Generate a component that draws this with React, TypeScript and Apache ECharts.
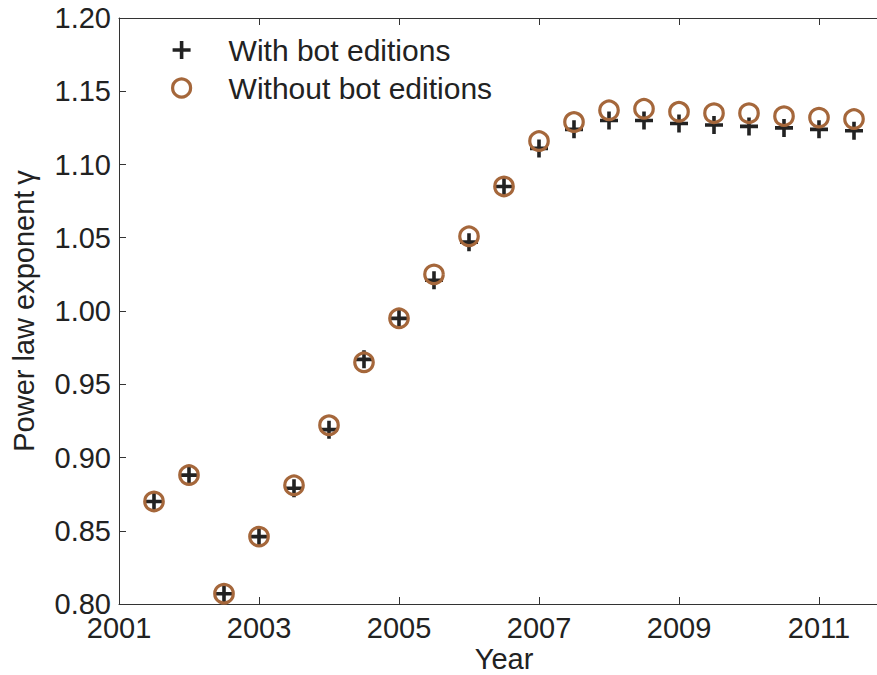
import React, { useEffect, useRef } from "react";
import * as echarts from "echarts";

const years = [
  2001.5, 2002, 2002.5, 2003, 2003.5, 2004, 2004.5, 2005, 2005.5, 2006, 2006.5,
  2007, 2007.5, 2008, 2008.5, 2009, 2009.5, 2010, 2010.5, 2011, 2011.5,
];
const withBot = [
  0.870, 0.888, 0.807, 0.846, 0.879, 0.919, 0.967, 0.995, 1.021, 1.047, 1.085,
  1.111, 1.124, 1.130, 1.130, 1.128, 1.127, 1.126, 1.125, 1.124, 1.123,
];
const withoutBot = [
  0.870, 0.888, 0.807, 0.846, 0.881, 0.922, 0.965, 0.995, 1.025, 1.051, 1.085,
  1.116, 1.129, 1.137, 1.138, 1.136, 1.135, 1.135, 1.133, 1.132, 1.131,
];
const seriesNames = ["With bot editions", "Without bot editions"];
const xStartYear = 2001;
const xEndYear = 2012;
const yMin = 0.8;
const yMax = 1.2;

const PLUS = "path://M8,0H12V8H20V12H12V20H8V12H0V8H8Z";
const TEXT = "#222222";
const BROWN = "#a5673b";
const FONT = "'Liberation Sans', Arial, Helvetica, sans-serif";

export default function App() {
  const ref = useRef<HTMLDivElement>(null);
  useEffect(() => {
    document.body.style.margin = "0";
    const chart = echarts.init(ref.current!, null, { renderer: "svg" });
    const toX = (y: number) => y - xStartYear;
    const axisLine = { show: true, lineStyle: { color: "#333", width: 1 } };
    chart.setOption({
      animation: false,
      textStyle: { fontFamily: FONT, color: TEXT },
      grid: { left: 119, top: 18, bottom: 71, right: -12, outerBoundsMode: "none", containLabel: false },
      legend: {
        orient: "vertical",
        left: 171,
        top: 35,
        padding: 0,
        itemWidth: 18,
        itemHeight: 18,
        itemGap: 8,
        textStyle: { fontSize: 30, color: TEXT, fontFamily: FONT, padding: [0, 0, 0, 33], lineHeight: 30 },
        data: [
          { name: seriesNames[0], icon: PLUS, itemStyle: { color: TEXT } },
          {
            name: seriesNames[1],
            icon: "circle",
            itemStyle: { color: "rgba(0,0,0,0)", borderColor: BROWN, borderWidth: 3.2 },
          },
        ],
      },
      xAxis: [
        {
          type: "value",
          min: 0,
          max: xEndYear - xStartYear,
          interval: 2,
          name: "Year",
          nameLocation: "middle",
          nameGap: 44,
          nameMoveOverlap: false,
          nameTextStyle: { fontSize: 29, lineHeight: 22, color: TEXT, fontFamily: FONT },
          axisLine,
          axisTick: { show: true, inside: true, length: 7, lineStyle: { color: "#333" } },
          axisLabel: {
            fontSize: 29,
            lineHeight: 22,
            color: TEXT,
            fontFamily: FONT,
            margin: 13,
            showMaxLabel: false,
            formatter: (v: number) => String(v + xStartYear),
          },
          splitLine: { show: false },
        },
        {
          type: "value",
          position: "top",
          min: 0,
          max: xEndYear - xStartYear,
          interval: 2,
          axisLine,
          axisTick: { show: true, inside: true, length: 7, lineStyle: { color: "#333" } },
          axisLabel: { show: false },
          splitLine: { show: false },
        },
      ],
      yAxis: {
        type: "value",
        min: yMin,
        max: yMax,
        interval: 0.05,
        name: "Power law exponent\u2009γ",
        nameLocation: "middle",
        nameGap: 81,
        nameMoveOverlap: false,
        nameTextStyle: { fontSize: 29, color: TEXT, fontFamily: FONT },
        axisLine,
        axisTick: { show: true, inside: true, length: 7, lineStyle: { color: "#333" } },
        axisLabel: {
          fontSize: 29,
          lineHeight: 22,
          color: TEXT,
          fontFamily: FONT,
          margin: 8,
          formatter: (v: number) => v.toFixed(2),
        },
        splitLine: { show: false },
      },
      series: [
        {
          name: seriesNames[0],
          type: "scatter",
          symbol: PLUS,
          symbolSize: 18,
          itemStyle: { color: TEXT, opacity: 1 },
          data: years.map((y, i) => [toX(y), withBot[i]]),
          z: 2,
        },
        {
          name: seriesNames[1],
          type: "scatter",
          symbol: "circle",
          symbolSize: 18.5,
          itemStyle: { color: "rgba(0,0,0,0)", borderColor: BROWN, borderWidth: 3.2, opacity: 1 },
          data: years.map((y, i) => [toX(y), withoutBot[i]]),
          z: 3,
        },
      ],
    });
    return () => chart.dispose();
  }, []);
  return <div ref={ref} style={{ width: 877, height: 675 }} />;
}
